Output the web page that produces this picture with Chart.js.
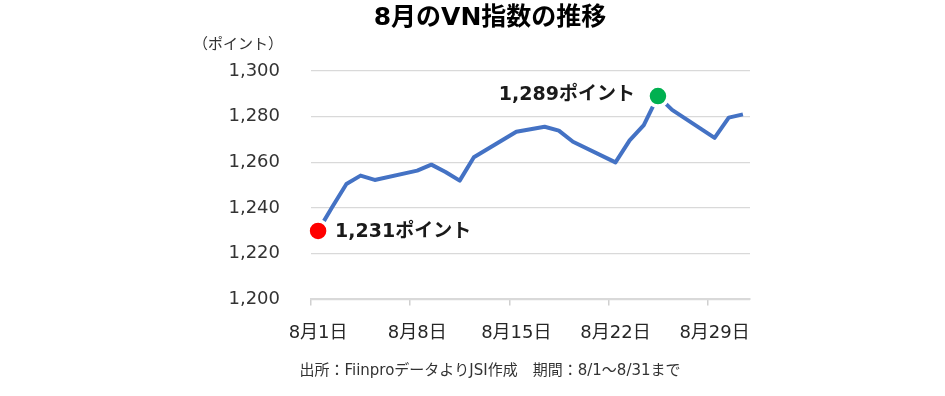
<!DOCTYPE html>
<html>
<head>
<meta charset="utf-8">
<script src="https://cdn.jsdelivr.net/npm/chart.js@4"></script>
<style>
  html, body { margin: 0; padding: 0; background: #ffffff; }
  #wrap { width: 945px; height: 396px; }
</style>
</head>
<body>
<div id="wrap"><canvas id="c" width="945" height="396"></canvas></div>
<script>
// ---- data ----
const categories = ["8月1日","8月2日","8月3日","8月4日","8月5日","8月6日","8月7日","8月8日","8月9日","8月10日",
  "8月11日","8月12日","8月13日","8月14日","8月15日","8月16日","8月17日","8月18日","8月19日","8月20日",
  "8月21日","8月22日","8月23日","8月24日","8月25日","8月26日","8月27日","8月28日","8月29日","8月30日","8月31日"];
const vnIndex = [1230, 1240.5, 1250.5, 1254.2, 1252.3, null, null, 1256.4, 1259.0, 1255.8,
  1252.0, 1262.2, null, null, 1273.4, 1274.5, 1275.6, 1273.9, 1269.0, null,
  null, 1260.0, 1269.6, 1276.3, 1289.0, 1283.0, null, null, 1270.7, 1279.6, 1281.0];
const tickLabels = ["8月1日", "8月8日", "8月15日", "8月22日", "8月29日"];
const yTicks = [1200, 1220, 1240, 1260, 1280, 1300];
const markerIndex = [0, 24];
const markerColors = ["#FF0000", "#00B050"];
const markerTexts = ["1,231ポイント", "1,289ポイント"];
const titleText = "8月のVN指数の推移";
const unitText = "（ポイント）";
const sourceText = "出所：FiinproデータよりJSI作成　期間：8/1～8/31まで";

const FONT = "'DejaVu Sans', 'Noto Sans CJK JP', sans-serif";

const annotatePlugin = {
  id: 'annotate',
  afterDatasetsDraw(chart) {
    const ctx = chart.ctx;
    const xs = chart.scales.x, ys = chart.scales.y;
    ctx.save();
    ctx.font = "bold 19px " + FONT;
    ctx.fillStyle = "#1a1a1a";
    ctx.textBaseline = "middle";
    markerIndex.forEach((idx, k) => {
      const px = xs.getPixelForValue(idx);
      const py = ys.getPixelForValue(vnIndex[idx]);
      if (k === 0) { ctx.textAlign = "left"; ctx.fillText(markerTexts[k], px + 17, py + 1); }
      else { ctx.textAlign = "right"; ctx.fillText(markerTexts[k], px - 23, py - 1); }
    });
    // unit label
    ctx.font = "15px " + FONT;
    ctx.fillStyle = "#333333";
    ctx.textAlign = "right";
    ctx.fillText(unitText, chart.chartArea.left - 28, chart.chartArea.top - 26);
    ctx.restore();
  }
};

new Chart(document.getElementById('c'), {
  type: 'line',
  data: {
    labels: categories,
    datasets: [{
      data: vnIndex,
      borderColor: '#4472C4',
      borderWidth: 4,
      spanGaps: true,
      tension: 0,
      borderJoinStyle: 'round',
      pointRadius: (c) => markerIndex.includes(c.dataIndex) ? 10 : 0,
      pointBackgroundColor: (c) => { const k = markerIndex.indexOf(c.dataIndex); return k >= 0 ? markerColors[k] : 'transparent'; },
      pointBorderColor: '#ffffff',
      pointBorderWidth: 3.5,
      pointHoverRadius: 0
    }]
  },
  options: {
    responsive: false,
    animation: false,
    events: [],
    layout: { padding: { left: 230, right: 195, top: 0, bottom: 16 } },
    plugins: {
      legend: { display: false },
      tooltip: { enabled: false },
      title: {
        display: true, text: titleText, color: '#000000',
        font: { family: FONT, size: 25, weight: 'bold', lineHeight: 1.2 },
        padding: { top: 3, bottom: 38 }
      },
      subtitle: {
        display: true, position: 'bottom', text: sourceText, color: '#333333',
        font: { family: FONT, size: 15, lineHeight: 1.2 },
        padding: { top: 1, bottom: 0 }
      }
    },
    scales: {
      x: {
        type: 'category',
        offset: true,
        grid: {
          offset: true,
          drawOnChartArea: false,
          drawTicks: true,
          tickLength: 6,
          lineWidth: 1.5,
          color: (c) => (c.index !== undefined && tickLabels.includes(categories[c.index])) ? '#d0d0d0' : 'rgba(0,0,0,0)'
        },
        border: { display: true, color: '#d9d9d9', width: 2 },
        ticks: {
          autoSkip: false, maxRotation: 0, minRotation: 0,
          padding: 17, color: '#262626',
          font: { family: FONT, size: 18 },
          callback: function (v, i) { const l = categories[i]; return tickLabels.includes(l) ? l : ''; }
        }
      },
      y: {
        min: 1200, max: 1300,
        afterBuildTicks: (s) => { s.ticks = yTicks.map(v => ({ value: v })); },
        afterFit: (s) => { s.width = 81; },
        grid: { color: '#d9d9d9', lineWidth: 1.3, drawTicks: false },
        border: { display: false },
        ticks: {
          padding: 31, color: '#333333',
          font: { family: FONT, size: 18 },
          callback: (v) => Number(v).toLocaleString('en-US')
        }
      }
    }
  },
  plugins: [annotatePlugin]
});
</script>
</body>
</html>
